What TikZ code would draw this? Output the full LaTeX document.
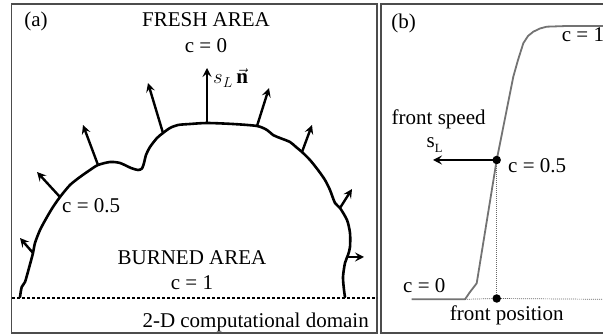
\documentclass[tikz,border=0pt]{standalone}
\usepackage{fontspec}
\setmainfont{Liberation Serif}
\usetikzlibrary{arrows.meta}
\begin{document}
\begin{tikzpicture}[x=1pt,y=-1pt,
  lbl/.style={font=\fontsize{21}{25}\selectfont, inner sep=0pt, anchor=base},
  framebox/.style={draw=black!70, line width=1.1pt},
  flame/.style={line width=2.6pt, line join=round, line cap=round},
  narrow/.style={line width=2.4pt, -{Stealth[length=9pt,width=9pt,inset=3.5pt]}},
  profile/.style={draw=black!55, line width=1.8pt, line join=round},
  thindot/.style={draw=black!60, line width=0.7pt, dash pattern=on 1pt off 1pt},
  blob/.style={circle, fill=black, inner sep=0pt, minimum size=8.5pt}]
\useasboundingbox (0,0) rectangle (603,336);
% frames
\draw[framebox] (11.7,4) rectangle (377,333);
\draw[framebox] (381,4) rectangle (606,333);

% ---------- panel (a) ----------
\node[lbl] (la) at (36,27) {(a)};
\node[lbl] (fresh) at (206,26.5) {FRESH AREA};
\node[lbl] (c0a) at (206,53) {c = 0};
\node[lbl] (burned) at (192,265) {BURNED AREA};
\node[lbl] (c1a) at (192,290) {c = 1};
\node[lbl, anchor=base west] (c05a) at (62,213) {c = 0.5};
\node[lbl, anchor=base east] (dom) at (369,328) {2-D computational domain};

% domain line
\coordinate (dl) at (12,298);
\coordinate (dr) at (377,298);
\draw[line width=2pt, dash pattern=on 2.5pt off 2.5pt] (dl) -- (dr);

% flame front
\draw[flame] plot[smooth, tension=0.45] coordinates {
 (20,297) (21.7,287) (25,282) (29,268) (33,253) (35,243) (40,230) (47,217)
 (53,207) (60,197) (70,185) (80,177) (90,170) (98,165) (110,162) (120,163)
 (131,168) (138,170) (142,168.5) (144,163) (146,155) (150,147) (157,138)
 (163,133) (170,128) (178,125) (190,124) (207,123) (233,124) (257,126)
 (267,130) (273,135) (280,138) (290,142) (296,147) (302,152) (310,160)
 (318,170) (325,180) (330,190) (335,203) (340,208) (347,220) (350,233)
 (350,247) (348,255) (345,263) (343,277) (344,290) (345,297)};

% normals
\coordinate (b1) at (33,253);  \coordinate (t1) at (20,238);
\coordinate (b2) at (60,197);  \coordinate (t2) at (37,172);
\coordinate (b3) at (98,165);  \coordinate (t3) at (83,125);
\coordinate (b4) at (163,133); \coordinate (t4) at (148,83);
\coordinate (b5) at (207,123); \coordinate (t5) at (207,68);
\coordinate (b6) at (257,126); \coordinate (t6) at (269,88);
\coordinate (b7) at (302,152); \coordinate (t7) at (312,125);
\coordinate (b8) at (340,208); \coordinate (t8) at (352,189);
\coordinate (b9) at (347,257); \coordinate (t9) at (364,257);
\foreach \i in {1,...,9} {\draw[narrow] (b\i) -- (t\i);}
\node[font=\fontsize{21}{25}\selectfont, inner sep=0pt, anchor=base west] (sln) at (213,84) {$s_L\,\vec{\mathbf{n}}$};

% ---------- panel (b) ----------
\node[lbl] (lb) at (403.5,29) {(b)};
\draw[profile] (411.7,299.3) -- (465,299.3) -- (470,292) -- (476.7,283.3)
  -- (496.7,160) -- (513.3,76.7) -- (518,60) -- (523.3,43.3) -- (528,36)
  -- (533.3,31.7) -- (540,28.5) -- (546.7,26.7) -- (566.7,26) -- (606,26);
\node[blob] (mid) at (496.7,160) {};
\node[blob] (pos) at (496.7,298.5) {};
\coordinate (hl) at (465,299.3);
\coordinate (hr) at (603,299.3);
\draw[thindot] (hl) -- (pos) -- (hr);
\draw[thindot] (mid) -- (pos);
\coordinate (sp) at (433,160);
\draw[narrow] (mid.center) -- (sp);
\node[lbl, anchor=base west] (fs) at (391.5,125) {front speed};
\node[lbl, anchor=base west] (sl) at (426.5,148) {s\raisebox{-5pt}{\fontsize{12.5}{13}\selectfont L}};
\node[lbl, anchor=base west] (c05b) at (508,173) {c = 0.5};
\node[lbl, anchor=base west] (c1b) at (561.7,42) {c = 1};
\node[lbl, anchor=base west] (c0b) at (403,293) {c = 0};
\node[lbl] (fp) at (506.7,321) {front position};
\end{tikzpicture}
\end{document}
